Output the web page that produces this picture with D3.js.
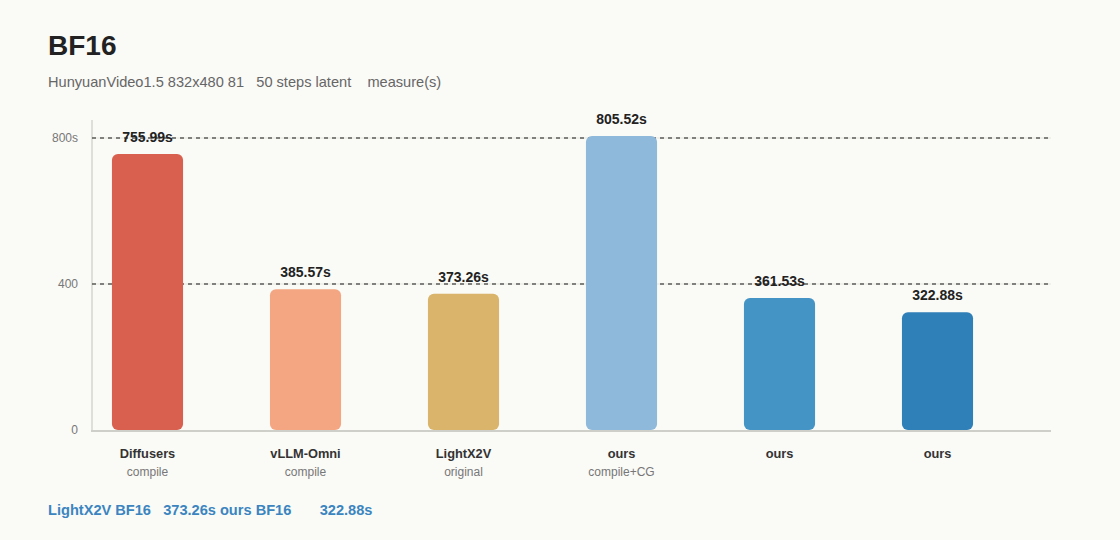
<!DOCTYPE html>
<html>
<head>
<meta charset="utf-8">
<script src="https://cdn.jsdelivr.net/npm/d3@7"></script>
<style>
  html, body { margin: 0; padding: 0; background: #fafaf6; }
  svg { display: block; font-family: "Liberation Sans", Arial, sans-serif; }
</style>
</head>
<body>
<svg id="chart" width="1120" height="540"></svg>
<script>
const categories = ["Diffusers", "vLLM-Omni", "LightX2V", "ours", "ours", "ours"];
const subLabels = ["compile", "compile", "original", "compile+CG", "", ""];
const values = [755.99, 385.57, 373.26, 805.52, 361.53, 322.88];
const barColors = ["#d9604f", "#f4a683", "#d9b46a", "#8fb9da", "#4494c5", "#2f7fb8"];
const yTicks = [0, 400, 800];
const yTickLabels = ["0", "400", "800s"];
const gridTicks = [400, 800];
const title = "BF16";
const subtitle = "HunyuanVideo1.5 832x480 81   50 steps latent    measure(s)";
const footer = "LightX2V BF16   373.26s ours BF16       322.88s";

const svg = d3.select("#chart");
const idx = d3.range(categories.length);

const x = d3.scaleBand().domain(idx).range([68.5, 1016.5]).paddingInner(0.55).paddingOuter(0.275);
const y = d3.scaleLinear().domain([0, 400]).range([430, 284]);

const left = 92, right = 1051;

// title
svg.append("text").attr("x", 48).attr("y", 55).attr("font-size", 28).attr("font-weight", "bold")
  .attr("fill", "#222").text(title);
svg.append("text").attr("x", 48).attr("y", 86.5).attr("font-size", 14.6).attr("fill", "#666")
  .style("white-space", "pre").text(subtitle);

// y axis line
svg.append("line").attr("x1", left).attr("x2", left).attr("y1", 120).attr("y2", 430)
  .attr("stroke", "#d6d6d0").attr("stroke-width", 1.5);

// gridlines
const grid = svg.append("g");
gridTicks.forEach(t => {
  grid.append("line").attr("x1", left).attr("x2", right).attr("y1", y(t)).attr("y2", y(t))
    .attr("stroke", "#e6e6e0").attr("stroke-width", 1);
  grid.append("line").attr("x1", left).attr("x2", right).attr("y1", y(t)).attr("y2", y(t))
    .attr("stroke", "#111").attr("stroke-width", 1).attr("stroke-dasharray", "4,4");
});

// y tick labels
yTicks.forEach((t, i) => {
  svg.append("text").attr("x", 78).attr("y", y(t)).attr("dy", "0.35em").attr("text-anchor", "end")
    .attr("font-size", 12).attr("fill", "#777").text(yTickLabels[i]);
});

// bars
svg.append("g").selectAll("rect").data(idx).join("rect")
  .attr("x", i => x(i)).attr("width", x.bandwidth())
  .attr("y", i => y(values[i])).attr("height", i => y(0) - y(values[i]))
  .attr("rx", 6).attr("ry", 6)
  .attr("fill", i => barColors[i]);

// x axis line
svg.append("line").attr("x1", left - 1).attr("x2", right).attr("y1", 431).attr("y2", 431)
  .attr("stroke", "#cfcfc9").attr("stroke-width", 2);

// value labels
svg.append("g").selectAll("text").data(idx).join("text")
  .attr("x", i => x(i) + x.bandwidth() / 2).attr("y", i => y(values[i]) - 12)
  .attr("text-anchor", "middle").attr("font-size", 14).attr("font-weight", "bold").attr("fill", "#222")
  .text(i => values[i].toFixed(2) + "s");

// category labels
svg.append("g").selectAll("text").data(idx).join("text")
  .attr("x", i => x(i) + x.bandwidth() / 2).attr("y", 458)
  .attr("text-anchor", "middle").attr("font-size", 12.8).attr("font-weight", "bold").attr("fill", "#333")
  .text(i => categories[i]);
svg.append("g").selectAll("text").data(idx).join("text")
  .attr("x", i => x(i) + x.bandwidth() / 2).attr("y", 476)
  .attr("text-anchor", "middle").attr("font-size", 12).attr("fill", "#777")
  .text(i => subLabels[i]);

// footer
svg.append("text").attr("x", 48).attr("y", 515).attr("font-size", 14.6).attr("font-weight", "bold")
  .attr("fill", "#3a85c0").style("white-space", "pre").text(footer);
</script>
</body>
</html>
